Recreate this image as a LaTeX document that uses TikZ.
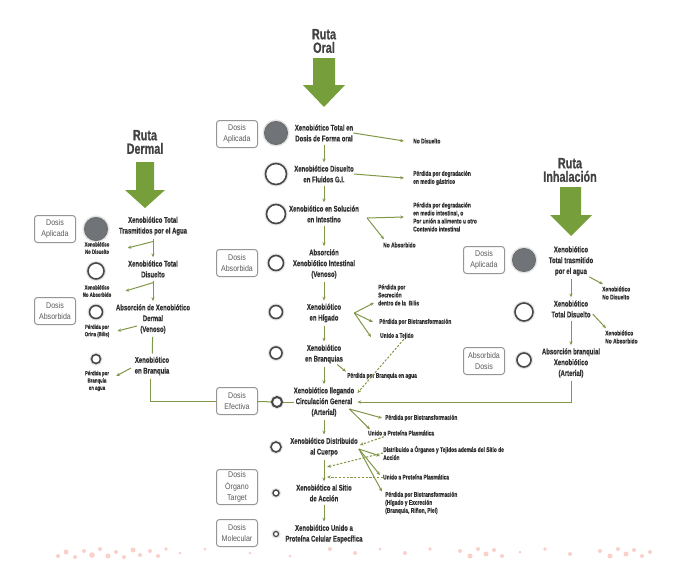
\documentclass[tikz,border=0pt]{standalone}
\usepackage{fontspec}
\newfontfamily\cf{Liberation Sans}[FakeStretch=0.72, FakeBold=0.5]
\newfontfamily\cfb{Liberation Sans}[FakeStretch=0.85]
\usetikzlibrary{arrows.meta}
\definecolor{grn}{RGB}{128,152,72}
\definecolor{bigg}{RGB}{118,158,58}
\definecolor{txt}{RGB}{50,50,50}
\definecolor{ttl}{RGB}{65,65,65}
\definecolor{boxc}{RGB}{150,150,150}
\definecolor{boxt}{RGB}{90,90,90}
\definecolor{ringc}{RGB}{72,72,72}
\definecolor{dotc}{RGB}{112,116,120}
\definecolor{pinkc}{RGB}{250,208,202}
\tikzset{
 lbl/.style={font=\cf\bfseries\fontsize{8.3}{10.8}\selectfont, text=txt, align=center, inner sep=0pt},
 sml/.style={font=\cf\bfseries\fontsize{6.8}{8}\selectfont, text=txt, align=left, inner sep=0pt, anchor=west},
 tlbl/.style={font=\cf\bfseries\fontsize{6}{7.3}\selectfont, text=txt, align=center, inner sep=0pt},
 rtitle/.style={font=\cf\bfseries\fontsize{15}{13.5}\selectfont, text=ttl, align=center, inner sep=0pt},
 dbox/.style={draw=boxc, rounded corners=3pt, line width=1pt, minimum width=41pt, minimum height=27pt, font=\cfb\fontsize{8.3}{11.5}\selectfont, text=boxt, align=center, inner sep=1pt, fill=white},
 oring/.style={circle, draw=ringc, line width=1.6pt, fill=white, inner sep=0pt, preaction={draw=black!10, line width=4pt}},
 fdot/.style={circle, draw=ringc!80, line width=1pt, fill=dotc, inner sep=0pt, preaction={draw=black!10, line width=4pt}},
 garrow/.style={draw=grn, line width=1pt, -{Stealth[length=3.8pt,width=3.2pt]}},
 gline/.style={draw=grn, line width=1pt},
 gdash/.style={garrow, dash pattern=on 2.2pt off 1.6pt},
 vshort/.style={shorten <=3pt, shorten >=3pt},
}
\begin{document}
\begin{tikzpicture}[x=1pt,y=-1pt]
\useasboundingbox (0,0) rectangle (699,562);
\fill[white] (0,0) rectangle (699,562);

% ---------------- Oral route ----------------
\node[rtitle] (tor) at (324,41) {Ruta\\Oral};
\fill[bigg] (313,58) -- (335,58) -- (335,85) -- (345,85) -- (324,107) -- (303,85) -- (313,85) -- cycle;

\node[dbox] (bo1) at (237,134) {Dosis\\Aplicada};
\node[fdot, minimum size=23pt] (co1) at (276,133) {};
\node[lbl] (to1) at (324,133) {Xenobiótico Total en\\Dosis de Forma oral};
\node[sml] (lo1) at (413,141) {No Disuelto};

\node[oring, minimum size=21pt] (co2) at (276,174) {};
\node[lbl] (to2) at (324,174) {Xenobiótico Disuelto\\en Fluidos G.I.};
\node[sml] (lo2) at (413,178) {Pérdida por degradación\\en medio gástrico};

\node[oring, minimum size=19pt] (co3) at (276,214) {};
\node[lbl] (to3) at (324,214) {Xenobiótico en Solución\\en Intestino};
\node[sml] (lo3) at (413,217) {Pérdida por degradación\\en medio intestinal, o\\Por unión a alimento u otro\\Contenido intestinal};
\node[sml] (lo3b) at (383,245) {No Absorbido};

\node[dbox] (bo4) at (237,263) {Dosis\\Absorbida};
\node[oring, minimum size=15pt] (co4) at (276,263) {};
\node[lbl] (to4) at (324,264) {Absorción\\Xenobiótico Intestinal\\(Venoso)};

\node[oring, minimum size=13pt] (co5) at (276,312) {};
\node[lbl] (to5) at (324,313) {Xenobiótico\\en Hígado};
\node[sml] (lo5a) at (378,295) {Pérdida por\\Secreción\\dentro de la\ \ Bilis};
\node[sml] (lo5b) at (379,322) {Pérdida por Biotransformación};
\node[sml] (lo5c) at (380,336) {Unido a Tejido};

\node[oring, minimum size=12pt] (co6) at (276,353) {};
\node[lbl] (to6) at (324,354) {Xenobiótico\\en Branquias};
\node[sml] (lo6) at (347,376) {Pérdida por Branquia en agua};

\node[dbox] (bo7) at (237,401) {Dosis\\Efectiva};
\node[oring, minimum size=10pt, line width=2pt] (co7) at (277,402) {};
\node[lbl] (to7) at (324,402) {Xenobiótico llegando\\Circulación General\\(Arterial)};
\node[sml] (lo7a) at (385,418) {Pérdida por Biotransformación};
\node[sml] (lo7b) at (368,433) {Unido a Proteína Plasmática};

\node[oring, minimum size=10pt] (co8) at (276,447) {};
\node[lbl] (to8) at (324,447) {Xenobiótico Distribuido\\al Cuerpo};
\node[sml] (lo8a) at (383,453) {Distribuido a Órganos y Tejidos además del Sitio de\\Acción};
\node[sml] (lo8b) at (383,477) {Unido a Proteína Plasmática};
\node[sml] (lo8c) at (385,503) {Pérdida por Biotransformación\\(Hígado y Excreción\\(Branquia, Riñon, Piel)};

\node[dbox, minimum height=35pt] (bo9) at (237,487) {Dosis\\Órgano\\Target};
\node[oring, minimum size=6pt, line width=1.4pt] (co9) at (276,493) {};
\node[lbl] (to9) at (324,493) {Xenobiótico al Sitio\\de Acción};

\node[dbox] (bo10) at (237,533) {Dosis\\Molecular};
\node[oring, minimum size=5pt, line width=1.2pt] (co10) at (276,534) {};
\node[lbl] (to10) at (324,534) {Xenobiótico Unido a\\Proteína Celular Específica};

% oral connectors
\draw[garrow] (to1.east) -- ([xshift=-9pt]lo1.west);
\draw[garrow] (to2.east) -- ([xshift=-9pt]lo2.west);
\coordinate (o3f) at ([shift={(8pt,-4pt)}]to3.east);
\draw[garrow] (o3f) -- ([xshift=-9pt]lo3.west);
\draw[garrow] (o3f) -- ([shift={(1pt,3pt)}]lo3b.north west);
\draw[garrow, vshort] (to1) -- (to2);
\draw[garrow, vshort] (to2) -- (to3);
\draw[garrow, vshort] (to3) -- (to4);
\draw[garrow, vshort] (to4) -- (to5);
\draw[garrow, vshort] (to5) -- (to6);
\draw[garrow, vshort] (to6) -- (to7);
\draw[garrow, vshort] (to7) -- (to8);
\draw[garrow, vshort] (to8) -- (to9);
\draw[garrow, vshort] (to9) -- (to10);

\coordinate (o5f) at ([xshift=13pt]to5.east);
\draw[garrow] (o5f) -- ([shift={(-4pt,3pt)}]lo5a.south west);
\draw[garrow] (o5f) -- ([xshift=-6pt]lo5b.west);
\draw[garrow] (o5f) -- ([shift={(-9pt,-1pt)}]lo5c.west);
\draw[gdash] ([xshift=-10pt]lo5c.south east) -- ([shift={(3pt,-6pt)}]to7.north east);

\draw[garrow] ([shift={(-6pt,-1pt)}]to6.south east) -- ([shift={(-1pt,1pt)}]lo6.north west);

\draw[gline] (bo7) -- (co7);
\draw[gline] (co7) -- (to7);

\coordinate (o7f) at ([shift={(-5pt,-7pt)}]to7.east);
\draw[garrow] (o7f) -- ([xshift=-3pt]lo7a.west);
\draw[garrow] (o7f) -- ([shift={(2pt,1pt)}]lo7b.north west);
\draw[gdash] ([shift={(16pt,-1pt)}]lo7b.south west) -- ([shift={(2pt,2pt)}]to8.east);

\coordinate (o8f) at ([shift={(1pt,-2pt)}]to8.east);
\draw[garrow] (o8f) -- ([shift={(-3pt,-3pt)}]lo8a.west);
\draw[garrow] (o8f) -- ([shift={(-3pt,2pt)}]lo8b.west);
\draw[garrow] (o8f) -- ([xshift=-3pt]lo8c.north west);
\coordinate (ax1) at (327,477);
\coordinate (ax2) at (327,467);
\draw[gdash] (lo8b.west) -- (ax1);
\draw[gdash] (lo8a.west) -- (ax2);

% ---------------- Dermal route ----------------
\node[rtitle] (tde) at (145,142) {Ruta\\Dermal};
\fill[bigg] (136,162) -- (154,162) -- (154,190) -- (165,190) -- (145,208) -- (125,190) -- (136,190) -- cycle;

\node[dbox] (bd1) at (55,229) {Dosis\\Aplicada};
\node[fdot, minimum size=23pt] (cd1) at (96,229) {};
\node[lbl] (td1) at (153,226) {Xenobiótico Total\\Trasmitidos por el Agua};
\node[tlbl] (ld1) at (97,248) {Xenobiótico\\No Disuelto};

\node[oring, minimum size=16pt] (cd2) at (96,271) {};
\node[lbl] (td2) at (153,269) {Xenobiótico Total\\Disuelto};
\node[tlbl] (ld2) at (97,291) {Xenobiótico\\No Absorbido};

\node[dbox] (bd3) at (55,311) {Dosis\\Absorbida};
\node[oring, minimum size=13pt] (cd3) at (96,312) {};
\node[lbl] (td3) at (153,319) {Absorción de Xenobiótico\\Dermal\\(Venoso)};
\node[tlbl] (ld3) at (97,331) {Pérdida por\\Orina (Bilis)};

\node[oring, minimum size=9pt] (cd4) at (96,359) {};
\node[lbl] (td4) at (152,366) {Xenobiótico\\en Branquia};
\node[tlbl] (ld4) at (97,381) {Pérdida por\\Branquia\\en agua};

\draw[garrow, vshort] (td1) -- (td2);
\coordinate (d1b) at ([yshift=-6pt]td1.south);
\draw[garrow] (d1b) -- ([xshift=18pt]ld1.east);
\draw[garrow, vshort] (td2) -- (td3);
\coordinate (d2b) at ([yshift=-5pt]td2.south);
\draw[garrow] (d2b) -- ([xshift=14pt]ld2.east);
\draw[gline, vshort] (td3) -- (td4);
\coordinate (d3b) at (137,326);
\draw[garrow] (d3b) -- ([xshift=8pt]ld3.east);
\coordinate (d4b) at (131,368);
\draw[garrow] (d4b) -- ([shift={(7pt,5pt)}]ld4.east);
\draw[gline, shorten <=3pt] ([xshift=-2pt]td4.south) |- (bo7.west);

% ---------------- Inhalation route ----------------
\node[rtitle] (tin) at (570,170) {Ruta\\Inhalación};
\fill[bigg] (560,187) -- (581,187) -- (581,215) -- (592,215) -- (571,236) -- (550,215) -- (560,215) -- cycle;

\node[dbox] (bi1) at (484,260) {Dosis\\Aplicada};
\node[fdot, minimum size=23pt] (ci1) at (524,260) {};
\node[lbl] (ti1) at (571,261) {Xenobiótico\\Total trasmitido\\por el agua};
\node[sml] (li1) at (602,293) {Xenobiótico\\No Disuelto};

\node[oring, minimum size=18pt] (ci2) at (524,312) {};
\node[lbl] (ti2) at (571,309) {Xenobiótico\\Total Disuelto};
\node[sml] (li2) at (605,337) {Xenobiótico\\No Absorbido};

\node[dbox] (bi3) at (484,361) {Absorbida\\Dosis};
\node[oring, minimum size=14pt] (ci3) at (524,360) {};
\node[lbl] (ti3) at (571,363) {Absorción branquial\\Xenobiótico\\(Arterial)};

\draw[garrow, vshort] (ti1) -- (ti2);
\draw[garrow] ([shift={(-4pt,-1pt)}]ti1.south east) -- ([shift={(1pt,2pt)}]li1.north west);
\draw[garrow, vshort] (ti2) -- (ti3);
\draw[garrow] ([shift={(2pt,-5pt)}]ti2.east) -- ([shift={(1pt,2pt)}]li2.north west);
\draw[garrow, shorten <=3pt] (ti3.south) |- ([xshift=3pt]to7.east);

% ---------------- pink speckles at the bottom ----------------
\foreach \px/\py/\pr in {58/556/2pt,66/552/2.5pt,75/557/2pt,84/551/2pt,92/555/2.8pt,100/549/2pt,108/556/2.5pt,116/552/2pt,124/557/2pt,133/550/2.5pt,140/555/2pt,150/551/2pt,158/556/2pt,166/549/1.8pt,180/553/1.5pt,205/549/1.5pt,250/553/1.5pt,290/556/1.5pt,330/549/2pt,355/553/2pt,380/549/1.5pt,405/553/2pt,430/549/1.8pt,460/551/2pt,470/556/2.5pt,478/549/2pt,486/554/2.5pt,494/550/2pt,502/556/2pt,520/552/1.5pt,545/549/1.8pt,570/554/2pt,600/551/2pt,610/556/2.5pt,618/549/2pt,626/554/2.5pt,634/550/2pt,642/556/2pt,650/552/2pt}
  \fill[pinkc] (\px,\py) circle[radius=\pr];
\end{tikzpicture}
\end{document}
